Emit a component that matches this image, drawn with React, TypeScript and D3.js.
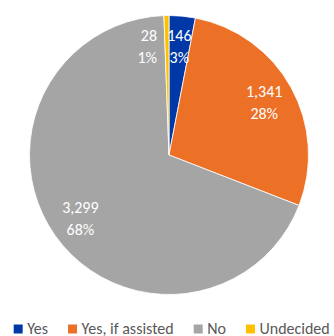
import React, { useEffect, useRef } from "react";
import * as d3 from "d3";

const categories = ["Yes", "Yes, if assisted", "No", "Undecided"];
const counts = [146, 1341, 3299, 28];
const percentLabels = ["3%", "28%", "68%", "1%"];
const colors = ["#0038A8", "#EC7026", "#A5A5A5", "#FFC000"];

const W = 334;
const H = 336;
const CX = 169;
const CY = 155;
const R = 139.5;
const FONT = "Carlito, Lato, sans-serif";
const FS = 16;

export default function App() {
  const ref = useRef<SVGSVGElement>(null);

  useEffect(() => {
    const svg = d3.select(ref.current);
    svg.selectAll("*").remove();

    const data = categories.map((c, i) => ({ cat: c, value: counts[i], pct: percentLabels[i], color: colors[i] }));
    const pie = d3.pie<any>().sort(null).value((d: any) => d.value);
    const arcs = pie(data);
    const arc = d3.arc<any>().innerRadius(0).outerRadius(R);
    const labelArc = d3.arc<any>().innerRadius(R * 0.78).outerRadius(R * 0.78);

    const g = svg.append("g").attr("transform", `translate(${CX},${CY})`);
    g.selectAll("path")
      .data(arcs)
      .join("path")
      .attr("d", arc as any)
      .attr("fill", (d: any) => d.data.color)
      .attr("stroke", "#fff")
      .attr("stroke-width", 0.8);

    const fmt = d3.format(",");
    arcs.forEach((a: any) => {
      const [x, y] = labelArc.centroid(a);
      const small = a.endAngle - a.startAngle < 0.1;
      const t = g
        .append("text")
        .attr("font-family", FONT)
        .attr("font-size", FS)
        .attr("fill", "#fff")
        .attr("text-anchor", small ? "end" : "middle");
      const lx = small ? x - 10 : x;
      t.append("tspan").attr("x", lx).attr("y", y - 5.5).text(fmt(a.data.value));
      t.append("tspan").attr("x", lx).attr("y", y + 16.5).text(a.data.pct);
    });

    // legend
    const lg = svg.append("g");
    const items = lg.selectAll("g").data(data).join("g");
    items
      .append("rect")
      .attr("width", 9)
      .attr("height", 9)
      .attr("y", 324.5)
      .attr("fill", (d: any) => d.color);
    items
      .append("text")
      .attr("font-family", FONT)
      .attr("font-size", FS)
      .attr("fill", "#595959")
      .attr("y", 333.5)
      .attr("x", 13.5)
      .text((d: any) => d.cat);
    let x = 0;
    const gap = 20;
    items.each(function () {
      const el = this as SVGGElement;
      d3.select(el).attr("transform", `translate(${x},0)`);
      const tw = (d3.select(el).select("text").node() as SVGTextElement).getComputedTextLength();
      x += 13.5 + tw + gap;
    });
    const total = x - gap;
    lg.attr("transform", `translate(${171.7 - total / 2},0)`);
  }, []);

  return (
    <svg
      ref={ref}
      width={W}
      height={H}
      style={{ position: "absolute", left: 0, top: 0, background: "#fff" }}
    />
  );
}
